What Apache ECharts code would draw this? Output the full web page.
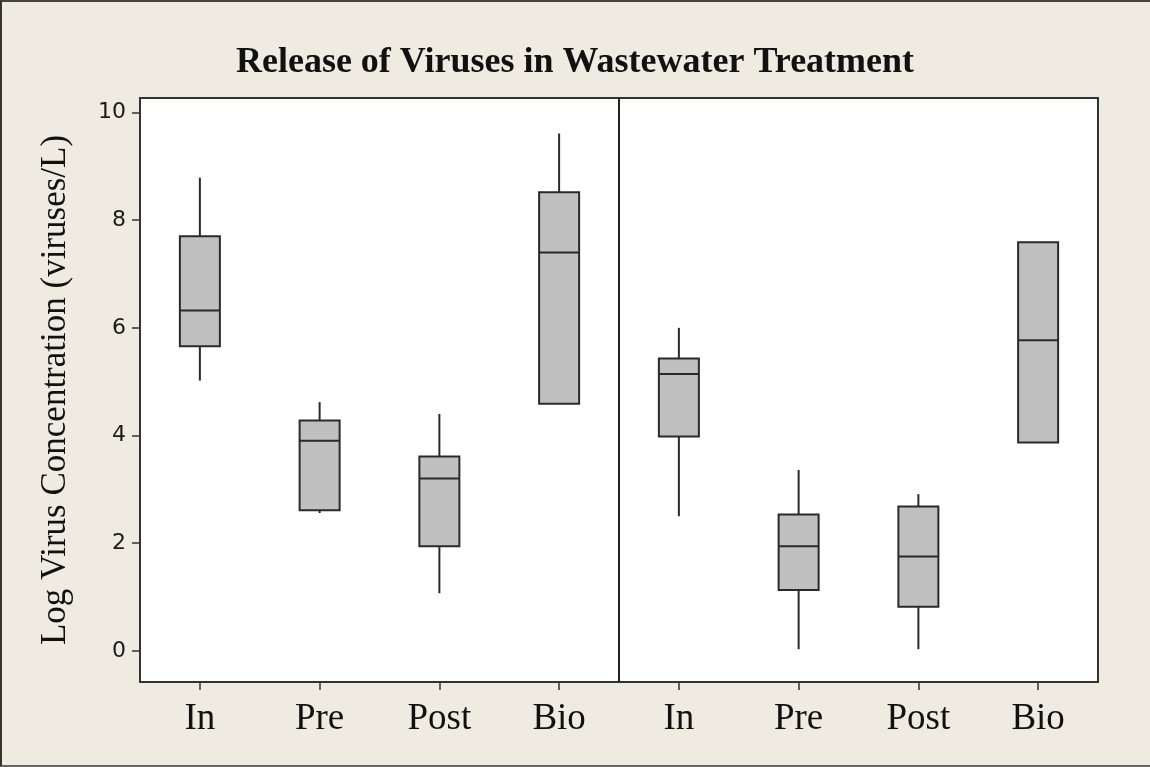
<!DOCTYPE html>
<html>
<head>
<meta charset="utf-8">
<script src="https://cdn.jsdelivr.net/npm/echarts@6/dist/echarts.min.js"></script>
<style>
  html, body { margin: 0; padding: 0; background: #efebe1; }
  #wrap { position: relative; width: 1150px; height: 767px; }
  #main { width: 1150px; height: 767px; }
  #frame { position: absolute; left: 0; top: 0; right: 0; bottom: 0; pointer-events: none;
           border-top: 2px solid #444; border-left: 2px solid #333; border-bottom: 2px solid #666; }
</style>
</head>
<body>
<div id="wrap"><div id="main"></div><div id="frame"></div></div>
<script>
var categories = ['In', 'Pre', 'Post', 'Bio', 'In', 'Pre', 'Post', 'Bio'];
var lowWhisker  = [5.02, 2.56, 1.07, 4.59, 2.50, 0.03, 0.03, 3.87];
var q1          = [5.66, 2.61, 1.94, 4.59, 3.98, 1.13, 0.82, 3.87];
var median      = [6.32, 3.90, 3.20, 7.40, 5.14, 1.94, 1.75, 5.77];
var q3          = [7.70, 4.28, 3.61, 8.52, 5.43, 2.53, 2.68, 7.59];
var highWhisker = [8.79, 4.62, 4.40, 9.61, 6.00, 3.36, 2.91, 7.59];
var yTicks = [0, 2, 4, 6, 8, 10];
var panelBreak = [3, 4]; // divider sits between these two categories

var myChart = echarts.init(document.getElementById('main'));

var boxData = [];
for (var i = 0; i < categories.length; i++) {
  boxData.push([i, lowWhisker[i], q1[i], median[i], q3[i], highWhisker[i]]);
}

var lineColor = '#2a2a2a';

function renderBox(params, api) {
  var x = api.value(0);
  var pLow = api.coord([x, api.value(1)]);
  var pQ1 = api.coord([x, api.value(2)]);
  var pMed = api.coord([x, api.value(3)]);
  var pQ3 = api.coord([x, api.value(4)]);
  var pHigh = api.coord([x, api.value(5)]);
  var half = api.size([1, 0])[0] * 0.167;
  var cx = pMed[0];
  var stroke = { stroke: lineColor, lineWidth: 2 };
  return {
    type: 'group',
    children: [
      { type: 'line', shape: { x1: cx, y1: pQ3[1], x2: cx, y2: pHigh[1] }, style: stroke },
      { type: 'line', shape: { x1: cx, y1: pQ1[1], x2: cx, y2: pLow[1] }, style: stroke },
      { type: 'rect', shape: { x: cx - half, y: pQ3[1], width: half * 2, height: pQ1[1] - pQ3[1] },
        style: { fill: '#c0c0c0', stroke: lineColor, lineWidth: 2 } },
      { type: 'line', shape: { x1: cx - half, y1: pMed[1], x2: cx + half, y2: pMed[1] }, style: stroke }
    ]
  };
}

function renderDivider(params, api) {
  var a = api.coord([api.value(0), 0]);
  var b = api.coord([api.value(1), 0]);
  var x = (a[0] + b[0]) / 2;
  var cs = params.coordSys;
  return {
    type: 'line',
    shape: { x1: x, y1: cs.y, x2: x, y2: cs.y + cs.height },
    style: { stroke: '#222', lineWidth: 2 }
  };
}

var option = {
  backgroundColor: '#efebe1',
  title: {
    text: 'Release of Viruses in Wastewater Treatment',
    left: 'center',
    top: 40,
    textStyle: { fontFamily: 'Liberation Serif', fontWeight: 'bold', fontSize: 36, color: '#111' }
  },
  grid: {
    left: 140, right: 52, top: 98, bottom: 85,
    show: true, backgroundColor: '#fff', borderColor: '#333', borderWidth: 2
  },
  xAxis: {
    type: 'category',
    data: categories,
    axisLine: { show: false, onZero: false },
    axisTick: { show: true, alignWithLabel: true, length: 8, lineStyle: { color: '#333', width: 1.5 } },
    axisLabel: { fontFamily: 'Liberation Serif', fontSize: 37, color: '#111', margin: 19 },
    splitLine: { show: false }
  },
  yAxis: {
    type: 'value',
    min: -0.58,
    max: 10.27,
    name: 'Log Virus Concentration (viruses/L)',
    nameLocation: 'middle',
    nameRotate: 90,
    nameGap: 67,
    nameTextStyle: { fontFamily: 'Liberation Serif', fontSize: 35, color: '#111' },
    axisLine: { show: false },
    axisTick: { show: true, length: 8, customValues: yTicks, lineStyle: { color: '#333', width: 1.5 } },
    axisLabel: { fontFamily: 'DejaVu Sans', fontSize: 22, color: '#1a1a1a', margin: 14, customValues: yTicks },
    splitLine: { show: false }
  },
  series: [{
    type: 'custom',
    renderItem: renderBox,
    encode: { x: 0, y: [1, 2, 3, 4, 5] },
    data: boxData
  }, {
    type: 'custom',
    renderItem: renderDivider,
    encode: { x: [0, 1] },
    data: [panelBreak],
    silent: true
  }]
};
myChart.setOption(option);
</script>
</body>
</html>
